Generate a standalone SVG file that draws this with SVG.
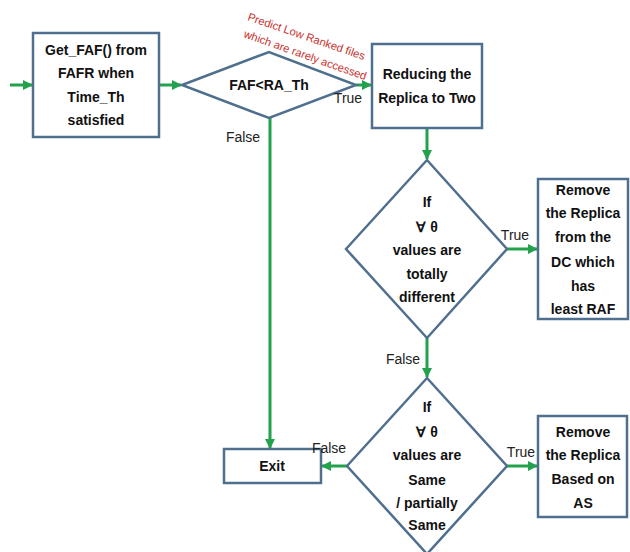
<svg xmlns="http://www.w3.org/2000/svg" width="630" height="552" viewBox="0 0 630 552">
<style>
.box{fill:#fff;stroke:#4f6f8f;stroke-width:2.5}
.t{font-family:"Liberation Sans",Arial,sans-serif;font-weight:bold;font-size:14px;fill:#111;text-anchor:middle;dominant-baseline:central}
.l{font-family:"Liberation Sans",Arial,sans-serif;font-size:14px;fill:#222;text-anchor:middle;dominant-baseline:central}
.r{font-family:"Liberation Sans",Arial,sans-serif;font-size:11.2px;fill:#c9302c}
.c{stroke:#22a24c;stroke-width:3;fill:none;marker-end:url(#ah)}
</style>
<defs>
<marker id="ah" viewBox="0 0 10 10" refX="9" refY="5" markerWidth="3.4" markerHeight="3.4" orient="auto" markerUnits="strokeWidth">
<path d="M0,0 L10,5 L0,10 z" fill="#22a24c"/>
</marker>
</defs>
<g id="connectors">
<line class="c" x1="10" y1="85" x2="32" y2="85"/>
<line class="c" x1="160" y1="85" x2="181" y2="85"/>
<line class="c" x1="356" y1="85" x2="371" y2="85"/>
<line class="c" x1="270" y1="118" x2="270" y2="448"/>
<line class="c" x1="427" y1="129" x2="427" y2="159"/>
<line class="c" x1="507" y1="249" x2="537" y2="249"/>
<line class="c" x1="427" y1="338" x2="427" y2="377"/>
<line class="c" x1="347" y1="466" x2="322" y2="466"/>
<line class="c" x1="507" y1="466" x2="537" y2="466"/>
</g>
<g id="n1"><rect class="box" x="33" y="33" width="126" height="104"/>
<text class="t" x="96" y="50">Get_FAF() from</text>
<text class="t" x="96" y="73">FAFR when</text>
<text class="t" x="96" y="97">Time_Th</text>
<text class="t" x="96" y="120">satisfied</text></g>
<g id="d1"><polygon class="box" points="182,85 269,52 356,85 269,118"/>
<text class="t" x="269" y="85">FAF&lt;RA_Th</text></g>
<g id="n2"><rect class="box" x="372" y="44" width="110" height="84"/>
<text class="t" x="427" y="74">Reducing the</text>
<text class="t" x="427" y="98">Replica to Two</text></g>
<g id="d2"><polygon class="box" points="346,249 427,160 507,249 427,338"/>
<text class="t" x="427" y="202">If</text>
<text class="t" x="427" y="227">∀ θ</text>
<text class="t" x="427" y="250">values are</text>
<text class="t" x="427" y="274">totally</text>
<text class="t" x="427" y="297">different</text></g>
<g id="n3"><rect class="box" x="538" y="179" width="90" height="140"/>
<text class="t" x="583" y="190">Remove</text>
<text class="t" x="583" y="213">the Replica</text>
<text class="t" x="583" y="237">from the</text>
<text class="t" x="583" y="262">DC which</text>
<text class="t" x="583" y="286">has</text>
<text class="t" x="583" y="309">least RAF</text></g>
<g id="d3"><polygon class="box" points="347,466 427,378 507,466 427,554"/>
<text class="t" x="427" y="407">If</text>
<text class="t" x="427" y="432">∀ θ</text>
<text class="t" x="427" y="455">values are</text>
<text class="t" x="427" y="480">Same</text>
<text class="t" x="427" y="503">/ partially</text>
<text class="t" x="427" y="525">Same</text></g>
<g id="n4"><rect class="box" x="538" y="416" width="89" height="101"/>
<text class="t" x="583" y="432">Remove</text>
<text class="t" x="583" y="455">the Replica</text>
<text class="t" x="583" y="479">Based on</text>
<text class="t" x="583" y="503">AS</text></g>
<g id="exit"><rect class="box" x="224" y="449" width="97" height="34"/>
<text class="t" x="272" y="466">Exit</text></g>
<g id="labels">
<text class="l" x="243" y="137">False</text>
<text class="l" x="348" y="98">True</text>
<text class="l" x="515" y="235">True</text>
<text class="l" x="403" y="359">False</text>
<text class="l" x="329" y="448">False</text>
<text class="l" x="521" y="452">True</text>
<text class="r" transform="translate(247,20) rotate(19)">Predict Low Ranked files</text>
<text class="r" transform="translate(243,37) rotate(19.5)">which are rarely accessed</text>
</g>
</svg>
